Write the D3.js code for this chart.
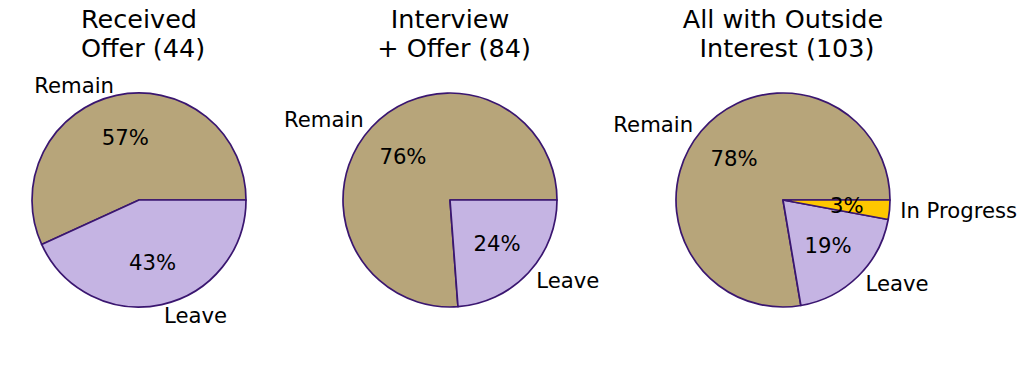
<!DOCTYPE html>
<html>
<head>
<meta charset="utf-8">
<script src="https://cdn.jsdelivr.net/npm/d3@7"></script>
<style>
  body { margin: 0; background: #fff; }
  text { font-family: "DejaVu Sans", sans-serif; fill: #000; }
</style>
</head>
<body>
<div id="chart"></div>
<script>
const WIDTH = 1024
const HEIGHT = 384
const RADIUS = 107

// one entry per pie
const titles = [
  ["Received", " Offer (44)"],
  ["Interview", " + Offer (84)"],
  ["All with Outside", " Interest (103)"]
]
const labels = [
  ["Remain", "Leave"],
  ["Remain", "Leave"],
  ["Remain", "Leave", "In Progress"]
]
const counts = [
  [25, 19],
  [64, 20],
  [80, 20, 3]
]
const colors = { "Remain": "#b7a57a", "Leave": "#c5b4e3", "In Progress": "#ffc700" }
const centersX = [139, 450, 783]
const CENTER_Y = 200

const svg = d3.select("#chart")
  .append("svg")
    .attr("width", WIDTH)
    .attr("height", HEIGHT)

svg.append("rect").attr("width", WIDTH).attr("height", HEIGHT).attr("fill", "#fff")

// matplotlib style: start at 3 o'clock, go counterclockwise
const pie = d3.pie()
  .sort(null)
  .value(d => d.value)
  .startAngle(Math.PI / 2)
  .endAngle(Math.PI / 2 - 2 * Math.PI)

const arc = d3.arc().innerRadius(0).outerRadius(RADIUS)
const labelArc = d3.arc().innerRadius(RADIUS * 1.1).outerRadius(RADIUS * 1.1)
const pctArc = d3.arc().innerRadius(RADIUS * 0.6).outerRadius(RADIUS * 0.6)

counts.forEach((vals, i) => {
  const data = vals.map((v, j) => ({ label: labels[i][j], value: v }))
  const total = d3.sum(vals)
  const g = svg.append("g")
    .attr("transform", `translate(${centersX[i]}, ${CENTER_Y})`)

  const slices = pie(data)

  g.selectAll("path")
    .data(slices)
    .enter().append("path")
      .attr("d", arc)
      .attr("fill", d => colors[d.data.label])
      .attr("stroke", "#3a1670")
      .attr("stroke-width", 1.7)
      .attr("stroke-linejoin", "round")

  g.selectAll("text.lab")
    .data(slices)
    .enter().append("text")
      .attr("class", "lab")
      .attr("x", d => labelArc.centroid(d)[0])
      .attr("y", d => labelArc.centroid(d)[1])
      .attr("text-anchor", d => labelArc.centroid(d)[0] < 0 ? "end" : "start")
      .attr("dominant-baseline", "central")
      .style("font-size", "21.2px")
      .text(d => d.data.label)

  g.selectAll("text.pct")
    .data(slices)
    .enter().append("text")
      .attr("class", "pct")
      .attr("x", d => pctArc.centroid(d)[0])
      .attr("y", d => pctArc.centroid(d)[1])
      .attr("text-anchor", "middle")
      .attr("dominant-baseline", "central")
      .style("font-size", "21.2px")
      .text(d => Math.round(d.value / total * 100) + "%")

  const title = svg.append("text")
    .attr("text-anchor", "middle")
    .style("font-size", "25.5px")
    .style("white-space", "pre")
  titles[i].forEach((line, k) => {
    title.append("tspan")
      .attr("x", centersX[i])
      .attr("y", 27.5 + k * 29.5)
      .text(line)
  })
})
</script>
</body>
</html>
